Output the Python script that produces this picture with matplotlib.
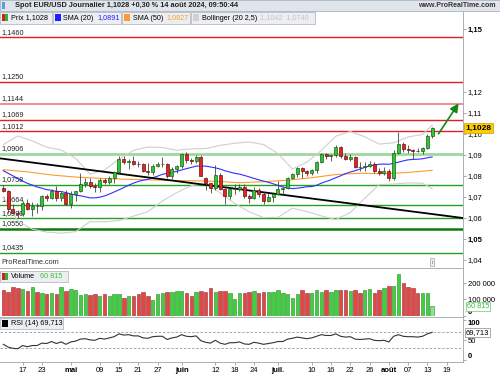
import numpy as np
import matplotlib
matplotlib.use("Agg")
import matplotlib.pyplot as plt
from matplotlib.patches import Rectangle
from matplotlib.transforms import blended_transform_factory

plt.rcParams['font.family'] = ['Liberation Sans', 'DejaVu Sans']

# %% data: daily EUR/USD, 11 Apr 2024 .. 14 Aug 2024 (index 0..89)
opens = [1.0742, 1.0728, 1.0642, 1.0625, 1.0619, 1.0672, 1.0644, 1.0656, 1.0655, 1.0703,
         1.0697, 1.0731, 1.0693, 1.0720, 1.0665, 1.0713, 1.0727, 1.0761, 1.0771, 1.0753,
         1.0748, 1.0782, 1.0771, 1.0790, 1.0818, 1.0882, 1.0865, 1.0870, 1.0857, 1.0855,
         1.0822, 1.0817, 1.0848, 1.0857, 1.0859, 1.0801, 1.0832, 1.0848, 1.0903, 1.0877,
         1.0870, 1.0891, 1.0790, 1.0765, 1.0741, 1.0806, 1.0740, 1.0703, 1.0737, 1.0738,
         1.0748, 1.0703, 1.0693, 1.0732, 1.0714, 1.0682, 1.0701, 1.0713, 1.0740, 1.0743,
         1.0791, 1.0810, 1.0839, 1.0826, 1.0812, 1.0829, 1.0867, 1.0906, 1.0893, 1.0898,
         1.0938, 1.0897, 1.0883, 1.0891, 1.0845, 1.0843, 1.0848, 1.0855, 1.0822, 1.0816,
         1.0825, 1.0790, 1.0910, 1.0953, 1.0930, 1.0922, 1.0920, 1.0917, 1.0932, 1.0992]
highs = [1.0757, 1.0732, 1.0668, 1.0638, 1.0680, 1.0690, 1.0677, 1.0672, 1.0710, 1.0715,
         1.0740, 1.0752, 1.0727, 1.0733, 1.0730, 1.0730, 1.0812, 1.0790, 1.0790, 1.0765,
         1.0790, 1.0790, 1.0800, 1.0825, 1.0895, 1.0895, 1.0880, 1.0895, 1.0873, 1.0860,
         1.0860, 1.0858, 1.0865, 1.0889, 1.0860, 1.0841, 1.0852, 1.0910, 1.0915, 1.0885,
         1.0902, 1.0900, 1.0797, 1.0768, 1.0852, 1.0813, 1.0745, 1.0745, 1.0761, 1.0761,
         1.0761, 1.0716, 1.0748, 1.0745, 1.0722, 1.0720, 1.0720, 1.0776, 1.0750, 1.0797,
         1.0816, 1.0845, 1.0845, 1.0830, 1.0833, 1.0872, 1.0910, 1.0910, 1.0904, 1.0948,
         1.0945, 1.0910, 1.0905, 1.0893, 1.0868, 1.0869, 1.0870, 1.0867, 1.0837, 1.0845,
         1.0832, 1.0925, 1.1009, 1.0962, 1.0950, 1.0931, 1.0935, 1.0940, 1.0998, 1.1035]
lows = [1.0723, 1.0622, 1.0620, 1.0601, 1.0610, 1.0637, 1.0610, 1.0624, 1.0640, 1.0680,
        1.0690, 1.0680, 1.0683, 1.0662, 1.0650, 1.0680, 1.0725, 1.0750, 1.0742, 1.0725,
        1.0724, 1.0763, 1.0762, 1.0766, 1.0810, 1.0857, 1.0835, 1.0852, 1.0843, 1.0818,
        1.0805, 1.0805, 1.0842, 1.0845, 1.0790, 1.0788, 1.0812, 1.0840, 1.0860, 1.0855,
        1.0864, 1.0800, 1.0733, 1.0718, 1.0733, 1.0735, 1.0668, 1.0690, 1.0715, 1.0730,
        1.0695, 1.0671, 1.0690, 1.0700, 1.0666, 1.0677, 1.0677, 1.0710, 1.0710, 1.0739,
        1.0786, 1.0795, 1.0790, 1.0798, 1.0807, 1.0812, 1.0860, 1.0880, 1.0872, 1.0890,
        1.0887, 1.0875, 1.0870, 1.0840, 1.0825, 1.0826, 1.0842, 1.0812, 1.0804, 1.0803,
        1.0777, 1.0780, 1.0905, 1.0915, 1.0910, 1.0881, 1.0912, 1.0907, 1.0930, 1.0980]
closes = [1.0728, 1.0642, 1.0625, 1.0619, 1.0672, 1.0644, 1.0656, 1.0655, 1.0703, 1.0697,
          1.0731, 1.0693, 1.0720, 1.0665, 1.0713, 1.0727, 1.0761, 1.0771, 1.0753, 1.0748,
          1.0782, 1.0771, 1.0790, 1.0818, 1.0882, 1.0865, 1.0870, 1.0857, 1.0855, 1.0822,
          1.0817, 1.0848, 1.0857, 1.0859, 1.0801, 1.0832, 1.0848, 1.0903, 1.0877, 1.0870,
          1.0891, 1.0801, 1.0765, 1.0741, 1.0806, 1.0740, 1.0703, 1.0737, 1.0738, 1.0748,
          1.0703, 1.0693, 1.0732, 1.0714, 1.0682, 1.0701, 1.0713, 1.0740, 1.0743, 1.0791,
          1.0810, 1.0839, 1.0826, 1.0812, 1.0829, 1.0867, 1.0906, 1.0893, 1.0898, 1.0938,
          1.0897, 1.0883, 1.0891, 1.0845, 1.0843, 1.0848, 1.0855, 1.0822, 1.0816, 1.0825,
          1.0790, 1.0910, 1.0953, 1.0930, 1.0922, 1.0920, 1.0917, 1.0932, 1.0992, 1.1028]

sma20 = [1.0825, 1.0813, 1.0801, 1.0788, 1.0776, 1.0765, 1.0757, 1.0748, 1.0742, 1.0735,
         1.0732, 1.0727, 1.0726, 1.0721, 1.0715, 1.0709, 1.0706, 1.0701, 1.0696, 1.0696,
         1.0699, 1.0705, 1.0714, 1.0724, 1.0734, 1.0745, 1.0756, 1.0766, 1.0774, 1.0780,
         1.0784, 1.0792, 1.0799, 1.0808, 1.0813, 1.0818, 1.0822, 1.0829, 1.0835, 1.0841,
         1.0847, 1.0848, 1.0847, 1.0843, 1.0839, 1.0833, 1.0825, 1.0819, 1.0813, 1.0809,
         1.0803, 1.0796, 1.0789, 1.0782, 1.0776, 1.0770, 1.0763, 1.0755, 1.0748, 1.0744,
         1.0740, 1.0742, 1.0745, 1.0749, 1.0750, 1.0756, 1.0766, 1.0774, 1.0782, 1.0792,
         1.0801, 1.0811, 1.0819, 1.0825, 1.0833, 1.0841, 1.0848, 1.0852, 1.0856, 1.0857,
         1.0856, 1.0860, 1.0866, 1.0872, 1.0877, 1.0879, 1.0880, 1.0882, 1.0887, 1.0891]

sma50_idx = [0, 5, 10, 15, 20, 25, 30, 35, 40, 45, 49, 54, 59, 64, 69, 74, 79, 84, 89]
sma50 = [1.0830, 1.0820, 1.0805, 1.0795, 1.0789, 1.0785, 1.0782, 1.0779, 1.0777, 1.0774,
         1.0768, 1.0773, 1.0780, 1.0792, 1.0807, 1.0813, 1.0811, 1.0817, 1.0827]

bb_idx = [0, 3, 6, 9, 12, 15, 18, 21, 24, 27, 30, 33, 36, 39, 42, 45, 48, 51, 54, 57,
          60, 63, 66, 69, 72, 75, 78, 81, 84, 87, 89]
bb_upper = [1.0950, 1.0991, 1.0967, 1.0937, 1.0924, 1.0884, 1.0809, 1.0829, 1.0880, 1.0922,
            1.0938, 1.0936, 1.0923, 1.0929, 1.0931, 1.0946, 1.0956, 1.0962, 1.0950, 1.0907,
            1.0833, 1.0866, 1.0922, 1.0990, 1.1012, 1.0987, 1.0952, 1.0958, 1.0986, 1.0998, 1.1042]
bb_lower = [1.0700, 1.0585, 1.0547, 1.0533, 1.0528, 1.0535, 1.0583, 1.0582, 1.0588, 1.0609,
            1.0630, 1.0681, 1.0721, 1.0754, 1.0763, 1.0720, 1.0670, 1.0630, 1.0602, 1.0603,
            1.0647, 1.0631, 1.0610, 1.0593, 1.0626, 1.0694, 1.0759, 1.0762, 1.0767, 1.0766, 1.0740]

volumes = [158000, 148000, 175000, 169000, 165000, 152000, 175000, 144000, 138000, 132000,
           138000, 132000, 175000, 154000, 165000, 158000, 128000, 132000, 128000, 132000,
           123000, 132000, 123000, 132000, 134000, 111000, 123000, 123000, 132000, 144000,
           123000, 97000, 132000, 138000, 144000, 144000, 152000, 152000, 138000, 123000,
           144000, 152000, 144000, 169000, 148000, 152000, 152000, 138000, 103000, 138000,
           138000, 144000, 150000, 140000, 144000, 144000, 148000, 160000, 140000, 130000,
           110000, 135000, 155000, 140000, 140000, 155000, 148000, 160000, 148000, 155000,
           155000, 155000, 150000, 160000, 140000, 160000, 165000, 140000, 155000, 170000,
           180000, 180000, 255000, 200000, 175000, 170000, 140000, 140000, 140000, 60815]

rsi = [40, 33, 30, 29, 37, 34, 37, 37, 43, 42, 47, 42, 46, 40, 46, 48, 53, 54, 51, 50,
       55, 53, 56, 59, 66, 63, 64, 61, 61, 56, 55, 59, 60, 60, 52, 56, 58, 64, 60, 59,
       61, 49, 45, 43, 50, 43, 40, 44, 44, 46, 41, 40, 45, 43, 40, 42, 44, 47, 47, 53,
       55, 58, 56, 54, 56, 60, 64, 62, 62, 66, 60, 58, 59, 53, 52, 53, 54, 50, 49, 50,
       46, 60, 64, 60, 59, 59, 58, 60, 66, 69.713]

red_levels = [1.1460, 1.1250, 1.1069, 1.1012]
pink_level = 1.1144
green_levels = [1.0758, 1.0664, 1.0599, 1.0435]
light_green_level = 1.0906
dark_green_level = 1.0550

trend_x = [-0.69, 95.4]
trend_y = [1.0884, 1.0600]
arrow_from = (90.0, 1.0990)
arrow_to = (94.8, 1.1157)

date_ticks = [4, 8, 14, 20, 24, 28, 32, 37, 44, 48, 52, 57, 64, 68, 72, 76, 80, 84, 88, 92]
date_labels = ["17", "23", "mai", "09", "15", "21", "27", "juin", "12", "18", "24", "juil.",
               "10", "16", "22", "26", "août", "07", "13", "19"]
month_labels = ["mai", "juin", "juil.", "août"]

price_ticks = [1.04, 1.05, 1.06, 1.07, 1.08, 1.09, 1.10, 1.11, 1.12, 1.15]

# %% layout helpers (pixel coords, origin top-left)
W, H = 500, 375
def box(x0, y0, x1, y1):
    return [x0 / W, 1 - y1 / H, (x1 - x0) / W, (y1 - y0) / H]

def ftext(x, y, s, **kw):
    return fig.text(x / W, 1 - y / H, s, **kw)

def frect(x0, y0, x1, y1, **kw):
    r = Rectangle((x0 / W, 1 - y1 / H), (x1 - x0) / W, (y1 - y0) / H,
                  transform=fig.transFigure, **kw)
    fig.add_artist(r)
    return r

def comma(v, nd):
    return f"{v:.{nd}f}".replace(".", ",")

fig = plt.figure(figsize=(5, 3.75), dpi=100)
fig.patch.set_facecolor("white")

XL = (-0.69, 95.4)
x = np.arange(len(closes))
o, h, l, c = map(np.array, (opens, highs, lows, closes))
up = c >= o

# %% main price panel
ax = fig.add_axes(box(0, 12, 463, 268))
ax.set_xlim(*XL)
ax.set_ylim(1.0362, 1.1581)

for lv in red_levels:
    ax.axhline(lv, color="#e02020", lw=1.0, zorder=1)
ax.axhline(pink_level, color="#f08c8c", lw=1.4, zorder=1)
ax.axhline(light_green_level, color="#9fd89f", lw=2.0, zorder=1)
for lv in green_levels:
    ax.axhline(lv, color="#22a022", lw=1.0, zorder=1)
ax.axhline(dark_green_level, color="#0f7a0f", lw=1.8, zorder=1)

lab_tr = blended_transform_factory(ax.transAxes, ax.transData)
for lv in red_levels + [pink_level, light_green_level, dark_green_level] + green_levels:
    ax.text(0.004, lv + 0.0007, comma(lv, 4), transform=lab_tr, fontsize=5.2,
            va="bottom", ha="left", color="#222222", zorder=2)

ax.plot(bb_idx, bb_upper, color="#cfcfcf", lw=0.8, zorder=2)
ax.plot(bb_idx, bb_lower, color="#cfcfcf", lw=0.8, zorder=2)
ax.plot(sma50_idx, sma50, color="#ff9a2e", lw=0.8, zorder=3)
ax.plot(x, sma20, color="#3030ff", lw=0.8, zorder=3)
ax.plot(trend_x, trend_y, color="black", lw=1.3, zorder=4)

ax.vlines(x, l, h, color="#444444", lw=0.6, zorder=5)
body_lo = np.minimum(o, c)
body_h = np.maximum(np.abs(c - o), 0.00008)
ax.bar(x, body_h, bottom=body_lo, width=0.62,
       color=np.where(up, "#33c433", "#e02525"),
       edgecolor=np.where(up, "#1a5e1a", "#6e1010"), lw=0.5, zorder=6)

ax.annotate("", xy=arrow_to, xytext=arrow_from,
            arrowprops=dict(arrowstyle="-|>,head_length=0.5,head_width=0.25",
                            color="#118a11", lw=1.2), zorder=7, annotation_clip=False)

ax.yaxis.tick_right()
ax.set_yticks(price_ticks)
ax.set_yticklabels([comma(t, 2) for t in price_ticks])
for t, lab in zip(price_ticks, ax.get_yticklabels()):
    if round(t, 2) in (1.05, 1.15):
        lab.set_fontweight("bold")
ax.tick_params(axis="y", labelsize=5.5, length=2, width=0.5, color="#888888", pad=1.5)
ax.set_xticks([])
for s in ("left", "top", "bottom"):
    ax.spines[s].set_visible(False)
ax.spines["right"].set_color("#9aa4ad")
ax.spines["right"].set_linewidth(0.6)

ax.text(1.006, closes[-1], comma(closes[-1], 4), transform=lab_tr, fontsize=6,
        fontweight="bold", va="center", ha="left", clip_on=False, zorder=10,
        bbox=dict(boxstyle="square,pad=0.18", fc="#ffcc00", ec="#c9a100", lw=0.5))

# %% volume panel
axv = fig.add_axes(box(0, 268, 463, 315.7))
axv.set_xlim(*XL)
axv.set_ylim(0, 292000)
vcol = np.where(up, "#3fcf3f", "#e04848")
vcol[-1] = "#8fe08f"
axv.bar(x, volumes, width=0.72, color=vcol,
        edgecolor=np.where(up, "#2a8a2a", "#9a2a2a"), lw=0.4)
axv.yaxis.tick_right()
axv.set_yticks([0, 100000, 200000])
axv.set_yticklabels(["0", "100 000", "200 000"])
zero_lab = axv.get_yticklabels()[0]
zero_lab.set_fontweight("bold")
zero_lab.set_va("bottom")
axv.tick_params(axis="y", labelsize=5.5, length=2, width=0.5, color="#888888", pad=1.5)
axv.set_xticks([])
for s in ("left", "bottom"):
    axv.spines[s].set_visible(False)
for s in ("top", "right"):
    axv.spines[s].set_color("#9aa4ad")
    axv.spines[s].set_linewidth(0.6)
vtr = blended_transform_factory(axv.transAxes, axv.transData)
axv.text(1.008, volumes[-1] - 4000, "60 815", transform=vtr, fontsize=5.2, color="#3cb83c",
         va="center", ha="left", clip_on=False, zorder=10,
         bbox=dict(boxstyle="square,pad=0.1", fc="white", ec="#6cc86c", lw=0.5))

# %% RSI panel
axr = fig.add_axes(box(0, 317, 463, 362))
axr.set_xlim(*XL)
axr.set_ylim(-4, 108)
axr.axhline(70, color="#9a9a9a", lw=0.6, ls=(0, (3, 2)))
axr.axhline(30, color="#9a9a9a", lw=0.6, ls=(0, (3, 2)))
axr.plot(x, rsi, color="#333333", lw=0.8)
axr.yaxis.tick_right()
axr.set_yticks([0, 50, 100])
axr.set_yticklabels(["0", "50", "100"])
for lab in axr.get_yticklabels():
    if lab.get_text() in ("0", "100"):
        lab.set_fontweight("bold")
    if lab.get_text() == "0":
        lab.set_va("bottom")
    if lab.get_text() == "100":
        lab.set_va("top")
axr.tick_params(axis="y", labelsize=5.5, length=2, width=0.5, color="#888888", pad=1.5)
axr.set_xticks(date_ticks)
axr.set_xticklabels(date_labels)
for lab in axr.get_xticklabels():
    if lab.get_text() in month_labels:
        lab.set_fontweight("bold")
axr.tick_params(axis="x", labelsize=5.5, length=2, width=0.5, color="#888888", pad=1.5)
axr.spines["left"].set_visible(False)
for s in ("top", "right", "bottom"):
    axr.spines[s].set_color("#9aa4ad")
    axr.spines[s].set_linewidth(0.6)
rtr = blended_transform_factory(axr.transAxes, axr.transData)
axr.text(1.006, rsi[-1], comma(rsi[-1], 3), transform=rtr, fontsize=5.5, color="black",
         va="center", ha="left", clip_on=False, zorder=10,
         bbox=dict(boxstyle="square,pad=0.15", fc="white", ec="#888888", lw=0.5))

# %% header, legends, captions
frect(0, 0, 500, 11, fc="#dfe5ea", ec="#aab5bf", lw=0.6, zorder=8)
frect(2, 2, 5, 9, fc="#5aa0e0", ec="none", zorder=9)
ftext(15, 5.8, "Spot EUR/USD Journalier 1,1028 +0,30 % 14 août 2024, 09:50:44",
      fontsize=5.3, fontweight="bold", va="center", color="#222222", zorder=9)
ftext(496, 5.8, "www.ProRealTime.com", fontsize=5, fontweight="bold", va="center",
      ha="right", color="#333333", zorder=9)

leg_fc, leg_ec = "#eceef1", "#b4bcc4"
frect(0, 12, 52, 23.5, fc=leg_fc, ec=leg_ec, lw=0.6, zorder=8)
frect(2, 14, 5, 21, fc="#d42020", ec="none", zorder=9)
frect(5, 14, 8, 21, fc="#2fb52f", ec="none", zorder=9)
ftext(11, 18, "Prix 1,1028", fontsize=5.2, va="center", zorder=9)

frect(53, 12, 121, 23.5, fc=leg_fc, ec=leg_ec, lw=0.6, zorder=8)
frect(55, 14, 61, 21, fc="#2020ff", ec="none", zorder=9)
ftext(63, 18, "SMA (20)", fontsize=5.2, va="center", zorder=9)
ftext(97, 18, "1,0891", fontsize=5.2, va="center", color="#2020ff", zorder=9)

frect(122, 12, 190, 23.5, fc=leg_fc, ec=leg_ec, lw=0.6, zorder=8)
frect(124, 14, 130, 21, fc="#ff9a2e", ec="none", zorder=9)
ftext(133, 18, "SMA (50)", fontsize=5.2, va="center", zorder=9)
ftext(166, 18, "1,0827", fontsize=5.2, va="center", color="#ff9a2e", zorder=9)

frect(191, 12, 315, 23.5, fc=leg_fc, ec=leg_ec, lw=0.6, zorder=8)
frect(193, 14, 199, 21, fc="#d0d0d0", ec="none", zorder=9)
ftext(202, 18, "Bollinger (20 2,5)", fontsize=5.2, va="center", zorder=9)
ftext(260, 18, "1,1042  1,0740", fontsize=5.2, va="center", color="#c4c4c4", zorder=9)

ftext(1, 263, "ProRealTime.com", fontsize=5.2, va="center", color="#333333", zorder=9)
ftext(432, 262, "i", fontsize=4.5, va="center", ha="center", color="#667788", zorder=9,
      bbox=dict(boxstyle="square,pad=0.25", fc="#eef1f4", ec="#9aa4ad", lw=0.5))

frect(0, 270.5, 68, 282, fc=leg_fc, ec=leg_ec, lw=0.6, zorder=8)
frect(2, 273, 5, 280, fc="#d42020", ec="none", zorder=9)
frect(5, 273, 8, 280, fc="#2fb52f", ec="none", zorder=9)
ftext(11, 276.5, "Volume", fontsize=5.2, va="center", zorder=9)
ftext(40, 276.5, "60 815", fontsize=5.2, va="center", color="#3cc03c", zorder=9)

frect(0, 317.5, 63, 329, fc=leg_fc, ec=leg_ec, lw=0.6, zorder=8)
frect(2, 320, 8, 327, fc="black", ec="none", zorder=9)
ftext(11, 323.5, "RSI (14) 69,713", fontsize=5.2, va="center", zorder=9)

fig.savefig("out.png", dpi=100)
